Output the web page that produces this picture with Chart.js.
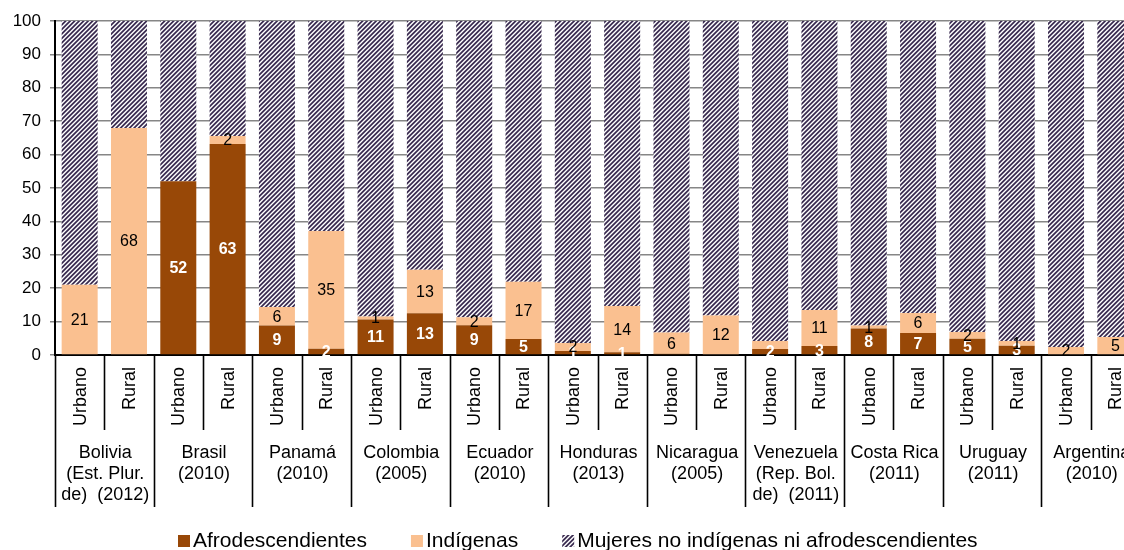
<!DOCTYPE html>
<html>
<head>
<meta charset="utf-8">
<script src="https://cdn.jsdelivr.net/npm/chart.js@4.4.1/dist/chart.umd.min.js"></script>
<style>
  html, body { margin: 0; padding: 0; background: #ffffff; overflow: hidden; }
  #wrap { position: relative; width: 1140px; height: 550px; }
</style>
</head>
<body>
<div id="wrap"><canvas id="c"></canvas></div>
<script>
// ---------- data ----------
const areas = ["Urbano", "Rural"];
const countries = [
  ["Bolivia", "(Est. Plur.", "de)  (2012)"],
  ["Brasil", "(2010)"],
  ["Panamá", "(2010)"],
  ["Colombia", "(2005)"],
  ["Ecuador", "(2010)"],
  ["Honduras", "(2013)"],
  ["Nicaragua", "(2005)"],
  ["Venezuela", "(Rep. Bol.", "de)  (2011)"],
  ["Costa Rica", "(2011)"],
  ["Uruguay", "(2011)"],
  ["Argentina", "(2010)"]
];
const categories = [
  "Bolivia Urbano", "Bolivia Rural", "Brasil Urbano", "Brasil Rural",
  "Panamá Urbano", "Panamá Rural", "Colombia Urbano", "Colombia Rural",
  "Ecuador Urbano", "Ecuador Rural", "Honduras Urbano", "Honduras Rural",
  "Nicaragua Urbano", "Nicaragua Rural", "Venezuela Urbano", "Venezuela Rural",
  "Costa Rica Urbano", "Costa Rica Rural", "Uruguay Urbano", "Uruguay Rural",
  "Argentina Urbano", "Argentina Rural"
];
const afro = [0, 0, 52, 63.2, 8.8, 1.9, 10.6, 12.5, 8.9, 4.8, 1.2, 0.8, 0.4, 0, 1.8, 2.7, 7.9, 6.6, 4.9, 2.8, 0, 0];
const indigenas = [21, 68, 0, 2.4, 5.6, 35.2, 0.9, 13.0, 2.4, 17.1, 2.4, 13.9, 6.3, 11.8, 2.4, 10.8, 0.9, 6.0, 2.0, 1.4, 2.4, 5.4];
const otras = [79, 32, 48, 34.4, 85.6, 62.9, 88.5, 74.5, 88.7, 78.1, 96.4, 85.3, 93.3, 88.2, 95.8, 86.5, 91.2, 87.4, 93.1, 95.8, 97.6, 94.6];
const hiddenIndLabels = [14];
const yTicks = [0, 10, 20, 30, 40, 50, 60, 70, 80, 90, 100];
const seriesNames = ["Afrodescendientes", "Indígenas", "Mujeres no indígenas ni afrodescendientes"];

// ---------- hatch pattern ----------
function makeHatch() {
  const s = 9;
  const c = document.createElement('canvas');
  c.width = s; c.height = s;
  const ctx = c.getContext('2d');
  const img = ctx.createImageData(s, s);
  const dark = [58, 43, 80];
  for (let y = 0; y < s; y++) {
    for (let x = 0; x < s; x++) {
      let cov = 0;
      for (let sy = 0; sy < 4; sy++) for (let sx = 0; sx < 4; sx++) {
        const v = (x + (sx + 0.5) / 4 + y + (sy + 0.5) / 4) % 4.5;
        if (v < 2.3) cov++;
      }
      cov /= 16;
      const i = (y * s + x) * 4;
      for (let k = 0; k < 3; k++) img.data[i + k] = Math.round(255 * (1 - cov) + dark[k] * cov);
      img.data[i + 3] = 255;
    }
  }
  ctx.putImageData(img, 0, 0);
  return document.getElementById('c').getContext('2d').createPattern(c, 'repeat');
}
const hatch = makeHatch();

const FONT = 'Arial, "Liberation Sans", sans-serif';

// ---------- plugins ----------
const dataLabels = {
  id: 'dataLabels',
  afterDatasetsDraw(chart) {
    const ctx = chart.ctx;
    ctx.save();
    ctx.textAlign = 'center';
    ctx.textBaseline = 'middle';
    [0, 1].forEach(di => {
      const meta = chart.getDatasetMeta(di);
      const data = chart.data.datasets[di].data;
      meta.data.forEach((el, i) => {
        const v = data[i];
        if (v < 0.6) return;
        if (di === 1 && hiddenIndLabels.includes(i)) return;
        const y = (el.y + el.base) / 2;
        if (di === 0) { ctx.fillStyle = '#ffffff'; ctx.font = 'bold 16px ' + FONT; }
        else { ctx.fillStyle = '#000000'; ctx.font = '16px ' + FONT; }
        ctx.fillText(String(Math.round(v)), el.x, y + 1);
      });
    });
    ctx.restore();
  }
};

const multiAxis = {
  id: 'multiAxis',
  afterDraw(chart) {
    const ctx = chart.ctx;
    const xs = chart.scales.x;
    const bottom = chart.chartArea.bottom;
    const w = xs.getPixelForValue(1) - xs.getPixelForValue(0);
    ctx.save();
    ctx.strokeStyle = '#000000';
    ctx.lineWidth = 1.6;
    for (let i = 0; i <= categories.length; i++) {
      const bx = Math.round(xs.getPixelForValue(0) - w / 2 + i * w) + 0.5;
      const end = (i % 2 === 0) ? bottom + 152 : bottom + 75;
      ctx.beginPath();
      ctx.moveTo(bx, bottom);
      ctx.lineTo(bx, end);
      ctx.stroke();
    }
    // rotated sub labels
    ctx.fillStyle = '#000000';
    ctx.font = '18px ' + FONT;
    ctx.textAlign = 'right';
    ctx.textBaseline = 'middle';
    for (let i = 0; i < categories.length; i++) {
      const cx = xs.getPixelForValue(i);
      ctx.save();
      ctx.translate(cx + 1, bottom + 12);
      ctx.rotate(-Math.PI / 2);
      ctx.fillText(areas[i % 2], 0, 0);
      ctx.restore();
    }
    // country labels
    ctx.textAlign = 'center';
    countries.forEach((lines, g) => {
      const gx = xs.getPixelForValue(2 * g) + w / 2;
      lines.forEach((t, k) => {
        ctx.fillText(t, gx + 1, bottom + 98 + k * 21);
      });
    });
    ctx.restore();
  }
};

const customLegend = {
  id: 'customLegend',
  afterDraw(chart) {
    const ctx = chart.ctx;
    ctx.save();
    ctx.font = '21px ' + FONT;
    ctx.textBaseline = 'alphabetic';
    ctx.textAlign = 'left';
    let x = 178;
    const boxTop = 535, box = 12, baseline = 547;
    chart.data.datasets.forEach((ds, i) => {
      ctx.fillStyle = ds.backgroundColor;
      ctx.fillRect(x, boxTop, box, box);
      x += box + 3;
      ctx.fillStyle = '#000000';
      ctx.fillText(ds.label, x, baseline);
      x += ctx.measureText(ds.label).width + 44;
    });
    ctx.restore();
  }
};

// ---------- chart ----------
new Chart(document.getElementById('c'), {
  type: 'bar',
  data: {
    labels: categories,
    datasets: [
      { label: seriesNames[0], data: afro, backgroundColor: '#984807', borderWidth: 0 },
      { label: seriesNames[1], data: indigenas, backgroundColor: '#FAC090', borderWidth: 0 },
      { label: seriesNames[2], data: otras, backgroundColor: hatch, borderWidth: 0 }
    ]
  },
  options: {
    responsive: true,
    maintainAspectRatio: false,
    animation: false,
    devicePixelRatio: 1,
    datasets: { bar: { categoryPercentage: 1.0, barPercentage: 0.73 } },
    layout: { padding: { top: 21, right: 0, left: 0, bottom: 0 } },
    plugins: {
      tooltip: { enabled: false },
      legend: { display: false }
    },
    scales: {
      x: {
        stacked: true,
        ticks: { display: false },
        grid: { display: false },
        border: { display: true, color: '#000000', width: 2 },
        afterFit(scale) { scale.height = 195; }
      },
      y: {
        stacked: true,
        min: 0,
        max: 100,
        afterBuildTicks(scale) { scale.ticks = yTicks.map(v => ({ value: v })); },
        ticks: {
          color: '#000000',
          font: { family: FONT, size: 17 },
          padding: 9
        },
        grid: {
          color: c => (c.tick && c.tick.value === 0) ? 'rgba(0,0,0,0)' : '#868686',
          lineWidth: 1.5,
          borderDash: [6, 3],
          tickColor: '#868686',
          tickLength: 5,
          tickBorderDash: []
        },
        border: { display: true, color: '#000000', width: 2 },
        afterFit(scale) { scale.width = 55; }
      }
    }
  },
  plugins: [dataLabels, multiAxis, customLegend]
});
</script>
</body>
</html>
